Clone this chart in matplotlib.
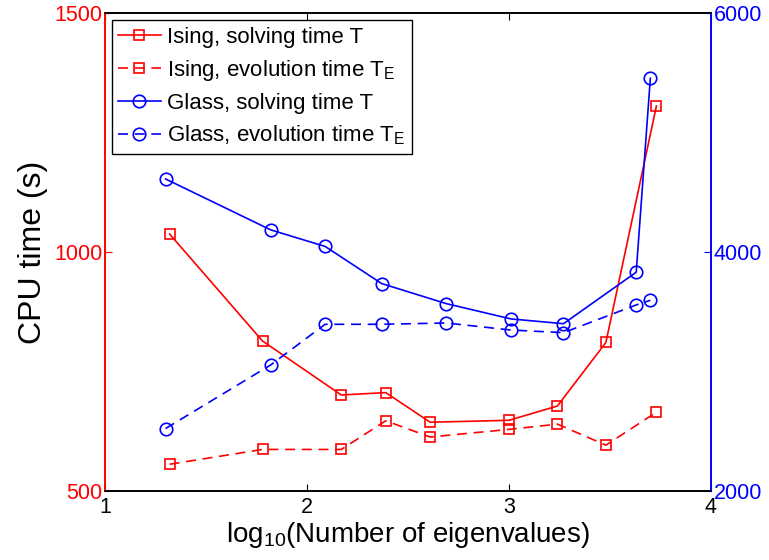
import matplotlib
matplotlib.use("Agg")
import matplotlib.pyplot as plt

plt.rcParams['font.family'] = ['Liberation Sans', 'DejaVu Sans']
plt.rcParams['mathtext.default'] = 'regular'

# Ising model (left axis, red)
ising_x = [1.32, 1.78, 2.17, 2.39, 2.61, 3.00, 3.24, 3.48, 3.73]
ising_solve = [1038, 814, 701, 706, 644, 648, 678, 811, 1306]
ising_evol = [556, 587, 587, 647, 613, 629, 640, 596, 665]

# Glass model (right axis, blue)
glass_x = [1.30, 1.82, 2.09, 2.37, 2.69, 3.01, 3.27, 3.63, 3.70]
glass_solve = [4613, 4187, 4048, 3737, 3569, 3441, 3401, 3832, 5456]
glass_evol = [2523, 3055, 3396, 3396, 3407, 3348, 3326, 3558, 3597]

labels = ['Ising, solving time T', 'Ising, evolution time T$_E$',
          'Glass, solving time T', 'Glass, evolution time T$_E$']

fig = plt.figure(figsize=(7.69, 5.6), dpi=100)
ax1 = fig.add_axes([0.1365, 0.1232, 0.788, 0.8530])
ax2 = ax1.twinx()

dash = (6, 4)
l1, = ax1.plot(ising_x, ising_solve, '-', color='red', marker='s', ms=7.5,
               mfc='none', mew=1.2, lw=1.2)
l2, = ax1.plot(ising_x, ising_evol, '--', color='red', marker='s', ms=7.5,
               mfc='none', mew=1.2, lw=1.2, dashes=dash)
l3, = ax2.plot(glass_x, glass_solve, '-', color='blue', marker='o', ms=9,
               mfc='none', mew=1.2, lw=1.2)
l4, = ax2.plot(glass_x, glass_evol, '--', color='blue', marker='o', ms=9,
               mfc='none', mew=1.2, lw=1.2, dashes=dash)

ax1.set_xlim(1, 4)
ax1.set_ylim(500, 1500)
ax2.set_ylim(2000, 6000)
ax1.set_xticks([1, 2, 3, 4])
ax1.set_yticks([500, 1000, 1500])
ax2.set_yticks([2000, 4000, 6000])

ax1.tick_params(axis='x', direction='in', length=5, labelsize=15.5, pad=4,
                top=True, colors='black')
ax1.tick_params(axis='y', direction='in', length=5, labelsize=15.5, pad=2,
                colors='red')
ax2.tick_params(axis='y', direction='in', length=5, labelsize=15.5, pad=2,
                colors='blue')

for ax in (ax1, ax2):
    ax.spines['left'].set_color('red')
    ax.spines['right'].set_color('blue')
    ax.spines['top'].set_color('black')
    ax.spines['bottom'].set_color('black')
    for s in ax.spines.values():
        s.set_linewidth(1.2)

ax1.set_ylabel('CPU time (s)', fontsize=23, labelpad=4)
ax1.set_xlabel('log$_{10}$(Number of eigenvalues)', fontsize=20, labelpad=2)

leg = ax2.legend([l1, l2, l3, l4], labels, loc='upper left',
                 bbox_to_anchor=(0.011, 0.986), borderaxespad=0,
                 fontsize=16, fancybox=False, framealpha=1, edgecolor='black',
                 handlelength=1.9, handletextpad=0.3, labelspacing=0.45,
                 borderpad=0.3)
leg.get_frame().set_linewidth(1.0)

fig.savefig('out.png', dpi=100)
